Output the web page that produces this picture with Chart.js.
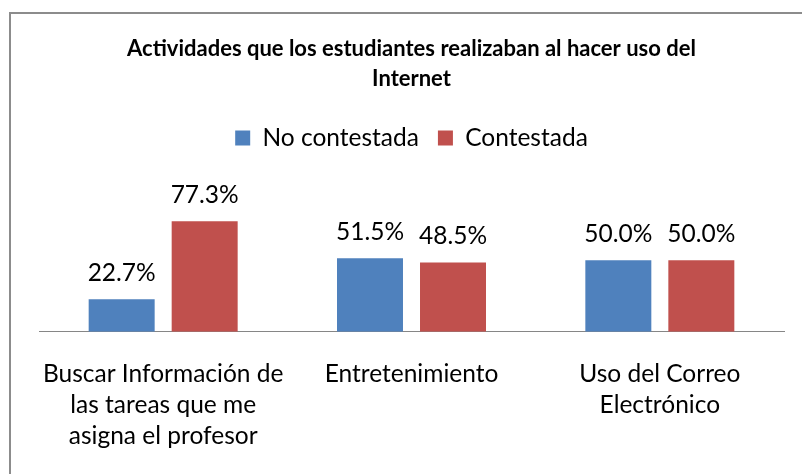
<!DOCTYPE html>
<html>
<head>
<meta charset="utf-8">
<script src="https://cdn.jsdelivr.net/npm/chart.js@4.4.0/dist/chart.umd.min.js"></script>
<style>
  html, body { margin:0; padding:0; background:#fff; }
  #wrap { position:relative; width:802px; height:474px; }
</style>
</head>
<body>
<div id="wrap"><canvas id="chart1" width="802" height="474"></canvas></div>
<script>
// ── DATA ──────────────────────────────────────────────────
const CATEGORIES = [
  ['Buscar Información de', 'las tareas que me', 'asigna el profesor'],
  'Entretenimiento',
  ['Uso del Correo', 'Electrónico'],
];
const NO_CONTESTADA = [22.7, 51.5, 50.0];
const CONTESTADA    = [77.3, 48.5, 50.0];
const SERIES_NAMES  = ['No contestada', 'Contestada'];
const TITLE_LINES   = ['Actividades que los estudiantes realizaban al hacer uso del', 'Internet'];

const FONT = "Lato, 'Open Sans', sans-serif";

// frame round the chart (cut at right/bottom like the picture)
const framePlugin = {
  id:'frame',
  beforeDraw(chart) {
    const c = chart.ctx;
    c.save();
    c.strokeStyle = '#8c8c8c'; c.lineWidth = 2;
    c.beginPath();
    c.moveTo(10, 480); c.lineTo(10, 13); c.lineTo(810, 13);
    c.stroke();
    c.restore();
  }
};

// value labels above bars
const valueLabels = {
  id:'valueLabels',
  afterDatasetsDraw(chart) {
    const c = chart.ctx;
    c.save();
    c.font = `24.5px ${FONT}`;
    c.fillStyle = '#000';
    c.textAlign = 'center';
    c.textBaseline = 'alphabetic';
    chart.data.datasets.forEach((ds, i) => {
      chart.getDatasetMeta(i).data.forEach((bar, j) => {
        c.fillText(ds.data[j].toFixed(1) + '%', bar.x, bar.y - 18);
      });
    });
    c.restore();
  }
};

const ctx = document.getElementById('chart1').getContext('2d');
new Chart(ctx, {
  type:'bar',
  data:{
    labels: CATEGORIES,
    datasets:[
      { label:SERIES_NAMES[0], data:NO_CONTESTADA, backgroundColor:'#4f81bd', borderWidth:0 },
      { label:SERIES_NAMES[1], data:CONTESTADA,    backgroundColor:'#c0504d', borderWidth:0 },
    ]
  },
  options:{
    responsive:false,
    animation:false,
    layout:{ padding:{ left:39, right:18, top:0, bottom:-5 } },
    datasets:{ bar:{ categoryPercentage:0.6685, barPercentage:0.795 } },
    plugins:{
      title:{
        display:true, text:TITLE_LINES, color:'#000',
        font:{ family:FONT, size:22, weight:'bold', lineHeight:1.36 },
        padding:{ top:34, bottom:13 }
      },
      legend:{
        labels:{ color:'#000', font:{ family:FONT, size:24.5 }, boxWidth:15, boxHeight:15, padding:19 }
      },
      tooltip:{ enabled:false }
    },
    scales:{
      x:{
        grid:{ display:false, drawTicks:false },
        border:{ display:true, color:'#868686', width:1 },
        ticks:{ color:'#000', font:{ family:FONT, size:24.5, lineHeight:1.27 }, padding:27, maxRotation:0 }
      },
      y:{ display:false, min:0, max:120 }
    }
  },
  plugins:[framePlugin, valueLabels]
});
</script>
</body>
</html>
